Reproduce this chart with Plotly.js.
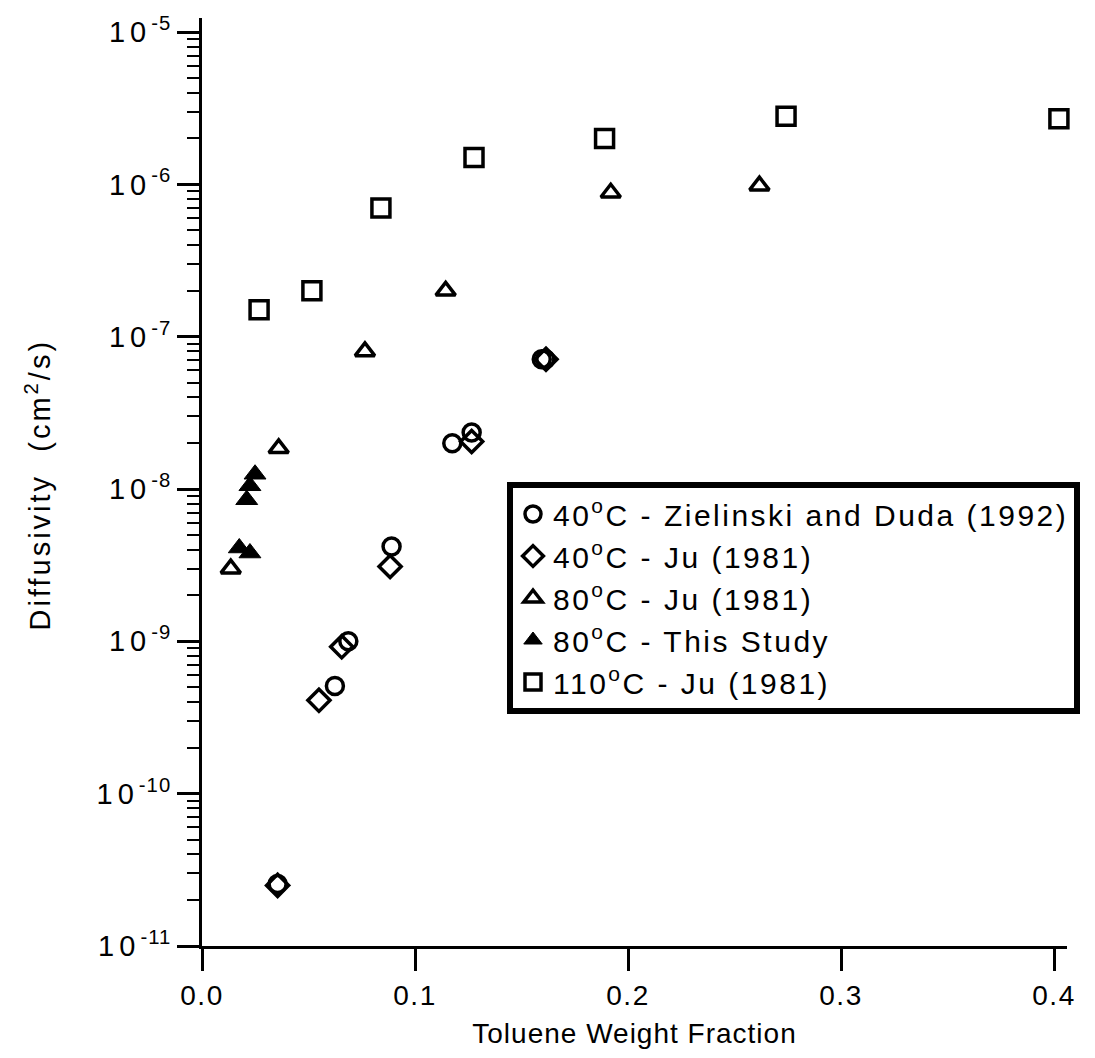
<!DOCTYPE html>
<html>
<head>
<meta charset="utf-8">
<script src="https://cdn.plot.ly/plotly-3.0.1.min.js"></script>
<style>
html,body{margin:0;padding:0;background:#fff;}
.xtick text { letter-spacing: 1.5px; }
.ytick text { letter-spacing: 5px; }
.ytick text tspan { letter-spacing: 1px; }
.g-xtitle text { letter-spacing: 1px; }
.legendtext { letter-spacing: 2.5px; }
.annotation-text { letter-spacing: 3px; }
</style>
</head>
<body>
<div id="chart" style="width:1095px;height:1058px;"></div>
<script>
// 40°C - Zielinski and Duda (1992)
const zielinski40_x = [0.0355, 0.0624, 0.0687, 0.0890, 0.1175, 0.1266, 0.1595, 0.1612];
const zielinski40_y = [2.55e-11, 5.1e-10, 1.0e-9, 4.2e-9, 2.0e-8, 2.35e-8, 7.1e-8, 7.1e-8];
// 40°C - Ju (1981)
const ju40_x = [0.0355, 0.0549, 0.0656, 0.0883, 0.1266, 0.1615];
const ju40_y = [2.5e-11, 4.1e-10, 9.2e-10, 3.1e-9, 2.05e-8, 7.1e-8];
// 80°C - Ju (1981)
const ju80_x = [0.0135, 0.0360, 0.0765, 0.1144, 0.1919, 0.2617];
const ju80_y = [3.0e-9, 1.85e-8, 8.0e-8, 2.0e-7, 8.8e-7, 9.8e-7];
// 80°C - This Study
const study80_x = [0.0175, 0.0225, 0.0210, 0.0225, 0.0249];
const study80_y = [4.1e-9, 3.8e-9, 8.5e-9, 1.05e-8, 1.25e-8];
// 110°C - Ju (1981)
const ju110_x = [0.0268, 0.0516, 0.0840, 0.1277, 0.1890, 0.2742, 0.4023];
const ju110_y = [1.5e-7, 2.0e-7, 7.0e-7, 1.5e-6, 2.0e-6, 2.8e-6, 2.7e-6];

const seriesNames = [
  '40<sup>o</sup>C - Zielinski and Duda (1992)',
  '40<sup>o</sup>C - Ju (1981)',
  '80<sup>o</sup>C - Ju (1981)',
  '80<sup>o</sup>C - This Study',
  '110<sup>o</sup>C - Ju (1981)'
];

const xTickVals = [0, 0.1, 0.2, 0.3, 0.4];
const xTickText = ['0.0', '0.1', '0.2', '0.3', '0.4'];
const yExponents = [-11, -10, -9, -8, -7, -6, -5];
const yTickVals = yExponents.map(e => Math.pow(10, e));
const yTickText = yExponents.map(e => '10<sup>' + '-' + Math.abs(e) + '</sup>');
const yMinorVals = [];
yExponents.forEach(e => { for (let d = 2; d <= 9; d++) yMinorVals.push(d * Math.pow(10, e)); });

const FONT = 'Liberation Sans, Arial, Helvetica, sans-serif';
const lineW = 3.5;

function tr(x, y, name, symbol, size, filled) {
  return {
    x: x, y: y, name: name, type: 'scatter', mode: 'markers', cliponaxis: false,
    marker: {
      symbol: symbol, size: size, color: 'black',
      line: {color: 'black', width: filled ? 1 : lineW}
    }
  };
}

const data = [
  tr(zielinski40_x, zielinski40_y, seriesNames[0], 'circle-open', 17, false),
  tr(ju40_x, ju40_y, seriesNames[1], 'diamond-open', 17, false),
  tr(ju80_x, ju80_y, seriesNames[2], 'triangle-up-open', 17, false),
  tr(study80_x, study80_y, seriesNames[3], 'triangle-up', 19, true),
  tr(ju110_x, ju110_y, seriesNames[4], 'square-open', 18, false)
];

const layout = {
  width: 1095, height: 1058,
  margin: {l: 202, r: 28, t: 18, b: 112},
  paper_bgcolor: 'white', plot_bgcolor: 'white',
  font: {family: FONT, size: 28, color: 'black'},
  showlegend: true,
  legend: {
    x: 0.3526, y: 0.5, xanchor: 'left', yanchor: 'top',
    bordercolor: 'black', borderwidth: 6, bgcolor: 'white',
    font: {family: FONT, size: 30, color: 'black'},
    itemclick: false
  },
  xaxis: {
    range: [0, 0.4061],
    tickmode: 'array', tickvals: xTickVals, ticktext: xTickText,
    ticks: 'outside', ticklen: 22, tickwidth: 3, tickcolor: 'black',
    showline: true, linewidth: 3, linecolor: 'black',
    showgrid: false, zeroline: false,
    tickfont: {family: FONT, size: 28, color: 'black'},
    title: {text: 'Toluene Weight Fraction', font: {family: FONT, size: 28, color: 'black'}, standoff: 14}
  },
  yaxis: {
    type: 'log',
    range: [-11, -4.908],
    tickmode: 'array', tickvals: yTickVals, ticktext: yTickText,
    ticks: 'outside', ticklen: 22, tickwidth: 3, tickcolor: 'black',
    minor: {tickmode: 'array', tickvals: yMinorVals, ticks: 'outside', ticklen: 12, tickwidth: 2, tickcolor: 'black', showgrid: false},
    showline: true, linewidth: 3, linecolor: 'black',
    showgrid: false, zeroline: false,
    tickfont: {family: FONT, size: 29, color: 'black'}
  },
  annotations: [{
    text: 'Diffusivity  (cm<sup>2</sup>/s)',
    xref: 'paper', yref: 'paper', x: -0.19, y: 0.497,
    xanchor: 'center', yanchor: 'middle', textangle: -90, showarrow: false,
    font: {family: FONT, size: 29, color: 'black'}
  }]
};

Plotly.newPlot('chart', data, layout, {displayModeBar: false, staticPlot: true});
</script>
</body>
</html>
